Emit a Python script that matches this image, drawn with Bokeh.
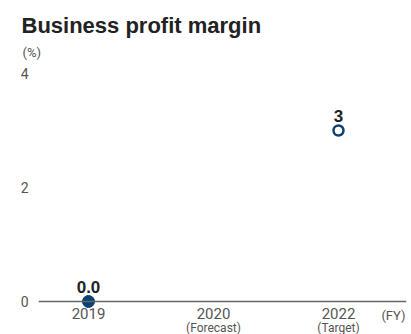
from bokeh.plotting import figure
from bokeh.models import ColumnDataSource, FixedTicker, Range1d, Title
from bokeh.core.properties import value
from bokeh.embed import file_html
from bokeh.resources import INLINE

# ---- data ----
years = ["2019", "2020", "2022"]
year_notes = ["", "(Forecast)", "(Target)"]
margins = [0.0, None, 3.0]          # business profit margin (%)
kinds = ["actual", None, "target"]
y_ticks = [0, 2, 4]
title_text = "Business profit margin"
unit_text = "(%)"
fy_text = "(FY)"

BLUE = "#0b4275"
TXT = "#222222"
GREY = "#555555"
NARROW = "Roboto"
SANS = "Liberation Sans"

pos = list(range(len(years)))

p = figure(width=411, height=334, output_backend="svg", toolbar_location=None,
           title=None,
           x_range=Range1d(-0.4, 2.544), y_range=Range1d(-0.579, 4.228),
           min_border_left=38, min_border_right=5, min_border_top=60,
           min_border_bottom=0)
p.outline_line_color = None
p.grid.visible = False

# x axis at y = 0
xa = p.xaxis[0]
xa.fixed_location = 0
xa.ticker = FixedTicker(ticks=pos)
xa.major_label_overrides = {i: y for i, y in zip(pos, years)}
xa.axis_line_color = "#666666"
xa.axis_line_width = 1.5
xa.major_tick_line_color = None
xa.minor_tick_line_color = None
xa.major_label_standoff = 1
xa.major_label_text_font = NARROW
xa.major_label_text_font_size = "15px"
xa.major_label_text_color = GREY

ya = p.yaxis[0]
ya.ticker = FixedTicker(ticks=y_ticks)
ya.axis_line_color = None
ya.major_tick_line_color = None
ya.minor_tick_line_color = None
ya.major_label_standoff = 4
ya.major_label_text_font = NARROW
ya.major_label_text_font_size = "14px"
ya.major_label_text_color = GREY

# sub notes under the years
notes = ColumnDataSource(dict(x=pos, y=[0] * len(pos), t=year_notes))
p.text("x", "y", text="t", source=notes, text_align="center",
       text_baseline="alphabetic", y_offset=27, text_font=value(NARROW),
       text_font_size="12px", text_color=GREY)

# markers
for kind, fill, size, lw in [("actual", BLUE, 12, 1), ("target", "white", 10, 2.5)]:
    xs = [i for i, k in zip(pos, kinds) if k == kind]
    vs = [v for v, k in zip(margins, kinds) if k == kind]
    labs = [("%.1f" % v) if kind == "actual" else ("%g" % v) for v in vs]
    src = ColumnDataSource(dict(x=xs, y=vs, t=labs))
    p.scatter("x", "y", source=src, size=size, fill_color=fill,
              line_color=BLUE, line_width=lw)
    p.text("x", "y", text="t", source=src, text_align="center",
           text_baseline="alphabetic", y_offset=-14, text_font=value(SANS),
           text_font_style="bold", text_font_size="17px", text_color=TXT)

# (FY)
fy = ColumnDataSource(dict(x=[p.x_range.end], y=[0], t=[fy_text]))
p.text("x", "y", text="t", source=fy, text_align="right", text_baseline="alphabetic",
       x_offset=-1, y_offset=14, text_font=value(NARROW), text_font_size="13px",
       text_color=GREY)

# title and unit (stacked above the frame)
p.add_layout(Title(text=unit_text, align="left", offset=-16, standoff=2,
                   text_font=NARROW, text_font_size="13px",
                   text_font_style="normal", text_color=GREY), "above")
p.add_layout(Title(text=title_text, align="left", offset=-17, standoff=8,
                   text_font=SANS, text_font_size="22px",
                   text_font_style="bold", text_color=TXT), "above")

open("out.html", "w").write(file_html(p, INLINE))
